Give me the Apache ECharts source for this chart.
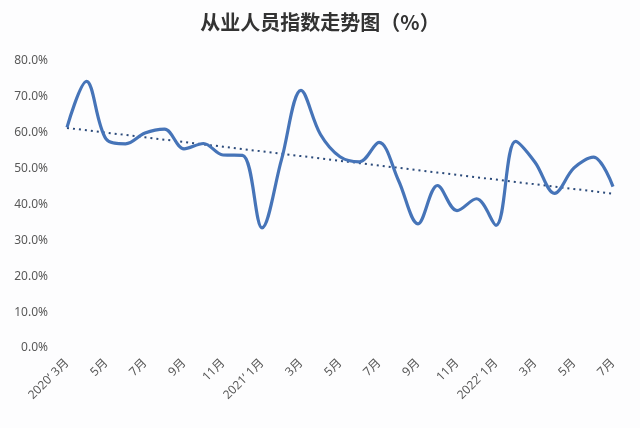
<!DOCTYPE html>
<html><head><meta charset="utf-8">
<script src="https://cdn.jsdelivr.net/npm/echarts@6/dist/echarts.min.js"></script>
<style>html,body{margin:0;padding:0;background:#fdfdfe}#c{width:640px;height:428px}</style>
</head><body><div id="c"></div>
<script>
const categories = ["2020’ 3月","4月","5月","6月","7月","8月","9月","10月","11月","12月",
  "2021’ 1月","2月","3月","4月","5月","6月","7月","8月","9月","10月","11月","12月",
  "2022’ 1月","2月","3月","4月","5月","6月","7月"];
const employmentIndex = [61.5,74.3,58.3,56.9,59.9,61.0,55.5,57.0,53.8,53.7,
  33.5,52.5,71.8,59.5,53.3,51.9,57.3,46.7,34.6,45.3,38.3,41.6,
  34.2,57.6,51.8,43.1,50.2,53.2,45.0];
const yTicks = {min:0, max:80, interval:10};

// linear trendline (least squares) derived from the series
const n = employmentIndex.length;
let sx=0, sy=0, sxy=0, sxx=0;
employmentIndex.forEach((v,i)=>{sx+=i;sy+=v;sxy+=i*v;sxx+=i*i;});
const slope = (n*sxy - sx*sy)/(n*sxx - sx*sx);
const icpt = (sy - slope*sx)/n;
const trend = employmentIndex.map((v,i)=>+(icpt+slope*i).toFixed(3));

const chart = echarts.init(document.getElementById('c'));
chart.setOption({
  backgroundColor:'#fdfdfe',
  animation:false,
  title:{text:'从业人员指数走势图（%）',left:'center',top:7,
    textStyle:{fontFamily:'Noto Sans CJK SC',fontSize:20,fontWeight:'bold',color:'#333'}},
  grid:{left:67,right:27,top:61,bottom:80,containLabel:false},
  xAxis:{type:'category',data:categories,boundaryGap:false,
    axisLine:{show:false},axisTick:{show:false},
    axisLabel:{interval:1,rotate:45,margin:13,color:'#595959',fontSize:12,
      fontFamily:'"Noto Sans", "Noto Sans CJK SC"'}},
  yAxis:{type:'value',min:yTicks.min,max:yTicks.max,interval:yTicks.interval,
    splitLine:{show:false},axisLine:{show:false},axisTick:{show:false},
    axisLabel:{formatter:v=>v.toFixed(1)+'%',color:'#595959',fontSize:12,margin:19,
      fontFamily:'Noto Sans'}},
  series:[
    {type:'line',data:employmentIndex,smooth:0.35,symbol:'none',
      lineStyle:{color:'#4674b8',width:3.2},z:3},
    {type:'line',data:trend,symbol:'none',
      lineStyle:{color:'#2b4a7a',width:2,type:[2,4]},z:2}
  ]
});
</script></body></html>
